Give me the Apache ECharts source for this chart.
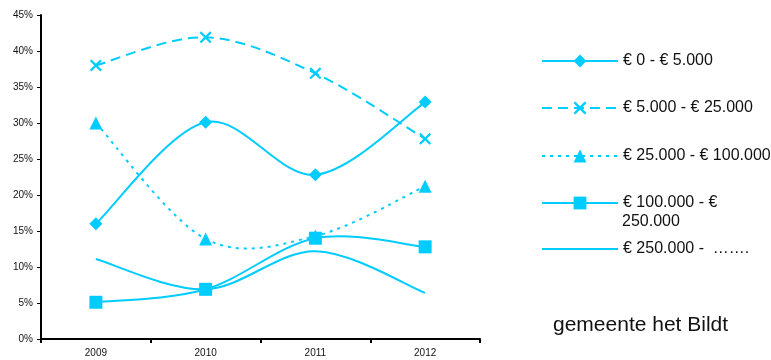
<!DOCTYPE html>
<html><head><meta charset="utf-8">
<script src="https://cdn.jsdelivr.net/npm/echarts@6/dist/echarts.min.js"></script>
<style>html,body{margin:0;padding:0;background:#fff}#c{width:771px;height:360px}</style>
</head><body><div id="c"></div>
<script>
var years = ['2009', '2010', '2011', '2012'];
var names = ['€ 0 - € 5.000', '€ 5.000 - € 25.000', '€ 25.000 - € 100.000', '€ 100.000 - €', '€ 250.000 -  …….'];
var s1 = [16, 30.1, 22.8, 32.9];
var s2 = [38, 41.9, 36.9, 27.8];
var s3 = [30, 13.9, 14.3, 21.2];
var s4 = [5.1, 6.9, 14, 12.8];
var s5 = [11.1, 6.9, 12.2, 6.4];
var yTicks = [0, 45, 5];
var footer = 'gemeente het Bildt';
var legendExtra = '250.000';

var C = '#00CCFF';
var FONT = "'Liberation Sans', Arial, sans-serif";
var xPath = 'path://M0,1.3 L1.3,0 L5,3.7 L8.7,0 L10,1.3 L6.3,5 L10,8.7 L8.7,10 L5,6.3 L1.3,10 L0,8.7 L3.7,5 Z';
var allData = [s1, s2, s3, s4, s5];
var dashes = ['solid', [10, 6], [3, 5], 'solid', 'solid'];
var symbols = ['diamond', xPath, 'triangle', 'rect', 'none'];
var symSizes = [13, 12, 13, 13, 0];

// Smooth curve (Catmull-Rom style, like the spreadsheet's smoothed lines) through the data points,
// positioned with the chart's own scales via api.coord.
function curveSeries(data, dash, k) {
  return {
    type: 'custom', id: 'curve' + k, silent: true, z: 2,
    data: data.map(function (v, i) { return [i, v]; }),
    encode: { x: 0, y: 1 },
    renderItem: function (params, api) {
      if (params.dataIndex !== 0) return;
      var p = data.map(function (v, i) { return api.coord([i, v]); });
      var d = 'M' + p[0][0] + ',' + p[0][1];
      for (var i = 0; i < p.length - 1; i++) {
        var p0 = p[Math.max(i - 1, 0)], p1 = p[i], p2 = p[i + 1], p3 = p[Math.min(i + 2, p.length - 1)];
        var c1 = [p1[0] + (p2[0] - p0[0]) / 6, p1[1] + (p2[1] - p0[1]) / 6];
        var c2 = [p2[0] - (p3[0] - p1[0]) / 6, p2[1] - (p3[1] - p1[1]) / 6];
        d += ' C' + c1[0] + ',' + c1[1] + ' ' + c2[0] + ',' + c2[1] + ' ' + p2[0] + ',' + p2[1];
      }
      return {
        type: 'path', shape: { pathData: d },
        style: { stroke: C, lineWidth: 2, fill: null, lineDash: dash === 'solid' ? null : dash }
      };
    },
    animation: false
  };
}
function markerSeries(k) {
  return {
    name: names[k], type: 'line', data: allData[k], smooth: false, z: 3,
    symbol: symbols[k], symbolSize: symSizes[k], showSymbol: symbols[k] !== 'none',
    lineStyle: { opacity: 0 },
    itemStyle: { color: C },
    emphasis: { disabled: true }, animation: false
  };
}
var legendTops = [60, 107, 155, 202, 248];
var legends = names.map(function (n, i) {
  var item = {
    name: n,
    lineStyle: { color: C, width: 2, type: dashes[i], opacity: 1 }
  };
  if (symbols[i] === 'none') item.itemStyle = { opacity: 0 };
  return {
    data: [item], orient: 'vertical', left: 536, top: legendTops[i] - 12,
    itemWidth: 76, itemHeight: 16, selectedMode: false,
    textStyle: { fontFamily: FONT, fontSize: 16, color: '#111', lineHeight: 16 }
  };
});
var series = [];
for (var k = 0; k < 5; k++) series.push(curveSeries(allData[k], dashes[k], k));
for (var k2 = 0; k2 < 5; k2++) series.push(markerSeries(k2));

var chart = echarts.init(document.getElementById('c'));
chart.setOption({
  animation: false,
  grid: { left: 41, right: 291, top: 15, bottom: 21 },
  legend: legends,
  xAxis: {
    type: 'category', data: years, boundaryGap: true,
    axisLine: { lineStyle: { color: '#000', width: 2 } },
    axisTick: { show: true, length: 4, lineStyle: { color: '#000', width: 2 } },
    axisLabel: { fontFamily: FONT, fontSize: 10, color: '#111', margin: 9 }
  },
  yAxis: {
    type: 'value', min: yTicks[0], max: yTicks[1], interval: yTicks[2],
    splitLine: { show: false },
    axisLine: { show: true, lineStyle: { color: '#000', width: 2 } },
    axisTick: { show: true, length: 4, lineStyle: { color: '#000', width: 1 } },
    axisLabel: { fontFamily: FONT, fontSize: 10, color: '#111', margin: 8, formatter: '{value}%' }
  },
  graphic: [
    { type: 'text', left: 622, top: 214, style: { text: legendExtra, font: '16px ' + FONT, fill: '#111' } },
    { type: 'text', left: 553, top: 315, style: { text: footer, font: '21px ' + FONT, fill: '#111' } }
  ],
  series: series
});
</script></body></html>
